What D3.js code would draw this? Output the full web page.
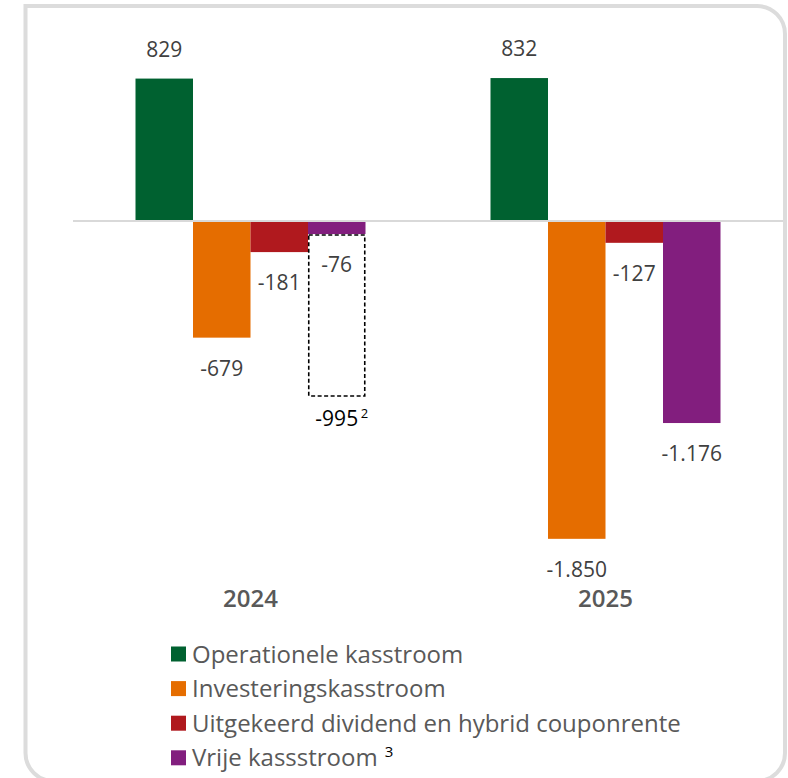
<!DOCTYPE html>
<html><head><meta charset="utf-8">
<script src="https://cdn.jsdelivr.net/npm/d3@7"></script>
<style>body{margin:0;background:#fff}svg{display:block}</style>
</head><body>
<svg id="c" width="788" height="778"></svg>
<script>
const years = ["2024", "2025"];
const series = ["Operationele kasstroom", "Investeringskasstroom", "Uitgekeerd dividend en hybrid couponrente", "Vrije kassstroom"];
const colors = ["#006130", "#E56D00", "#B0191E", "#821E7E"];
const values2024 = [829, -679, -181, -76];
const values2025 = [832, -1850, -127, -1176];
const labels2024 = ["829", "-679", "-181", "-76"];
const labels2025 = ["832", "-1.850", "-127", "-1.176"];
const dashedValue2024 = -995;
const dashedLabel = "-995";

const svg = d3.select("#c");
const font = "'Open Sans', 'Noto Sans', sans-serif";

// frame
svg.append("path")
  .attr("d", "M25.5,6 H757 A28,28 0 0 1 785,34 V753 A28,28 0 0 1 757,781 H53.5 A28,28 0 0 1 25.5,753 Z")
  .attr("fill", "none").attr("stroke", "#dcdcdc").attr("stroke-width", 4);

const x0 = d3.scaleBand().domain(years).range([73, 783]).padding(0);
const groupW = 230;
const x1 = d3.scaleBand().domain(series).range([0, groupW]).padding(0);
const y = d3.scaleLinear().domain([-2000, 1200]).range([221 + 2000 * 0.1718, 221 - 1200 * 0.1718]);

const data = [];
years.forEach((yr, i) => {
  const vals = i === 0 ? values2024 : values2025;
  const labs = i === 0 ? labels2024 : labels2025;
  series.forEach((s, j) => data.push({ yr, s, v: vals[j], label: labs[j], color: colors[j] }));
});
const gx = d => x0(d.yr) + (x0.bandwidth() - groupW) / 2 + x1(d.s);

// baseline
svg.append("line").attr("x1", 73).attr("x2", 783).attr("y1", y(0)).attr("y2", y(0))
  .attr("stroke", "#d9d9d9").attr("stroke-width", 2);

svg.selectAll("rect.bar").data(data).join("rect").attr("class", "bar")
  .attr("x", d => gx(d))
  .attr("width", x1.bandwidth())
  .attr("y", d => d.v >= 0 ? y(d.v) : y(0) + 1)
  .attr("height", d => d.v >= 0 ? y(0) - y(d.v) - 1 : y(d.v) - y(0) - 1)
  .attr("fill", d => d.color);

svg.selectAll("text.val").data(data).join("text").attr("class", "val")
  .attr("x", d => gx(d) + x1.bandwidth() / 2)
  .attr("y", d => d.v >= 0 ? y(d.v) - 22 : y(d.v) + 38)
  .attr("text-anchor", "middle")
  .attr("font-family", font).attr("font-size", 21).attr("fill", "#404040")
  .text(d => d.label);

// dashed box for 2024 free cash flow
const dd = data.find(d => d.yr === "2024" && d.s === series[3]);
svg.append("rect")
  .attr("x", gx(dd) + 0.75).attr("width", x1.bandwidth() - 1.5)
  .attr("y", y(dd.v) + 1).attr("height", y(dashedValue2024) - y(dd.v) + 3)
  .attr("fill", "none").attr("stroke", "#000").attr("stroke-width", 1.6)
  .attr("stroke-dasharray", "4,2.5");
const dcx = gx(dd) + x1.bandwidth() / 2;
const dy0 = y(dashedValue2024) + 34;
svg.append("text")
  .attr("x", dcx).attr("y", dy0)
  .attr("text-anchor", "middle")
  .attr("font-family", font).attr("font-size", 21).attr("fill", "#000")
  .text(dashedLabel);
svg.append("text")
  .attr("x", dcx + 24).attr("y", dy0 - 8)
  .attr("font-family", font).attr("font-size", 13).attr("fill", "#000")
  .text("2");

// year labels
svg.selectAll("text.yr").data(years).join("text").attr("class", "yr")
  .attr("x", d => x0(d) + x0.bandwidth() / 2)
  .attr("y", 607)
  .attr("text-anchor", "middle")
  .attr("font-family", font).attr("font-size", 24).attr("font-weight", 600).attr("fill", "#595959")
  .text(d => d);

// legend
const lg = svg.selectAll("g.lg").data(series).join("g").attr("class", "lg")
  .attr("transform", (d, i) => `translate(171, ${654 + i * 34.6})`);
lg.append("rect").attr("x", 0).attr("y", -7.5).attr("width", 15).attr("height", 15)
  .attr("fill", (d, i) => colors[i]);
const lt = lg.append("text").attr("x", 21).attr("y", 8.5)
  .attr("font-family", font).attr("font-size", 24).attr("fill", "#595959");
lt.append("tspan").text(d => d);
lt.filter((d, i) => i === 3).append("tspan").attr("dx", 7).attr("dy", -9)
  .attr("font-size", 15).attr("fill", "#000").text("3");
</script>
</body></html>
